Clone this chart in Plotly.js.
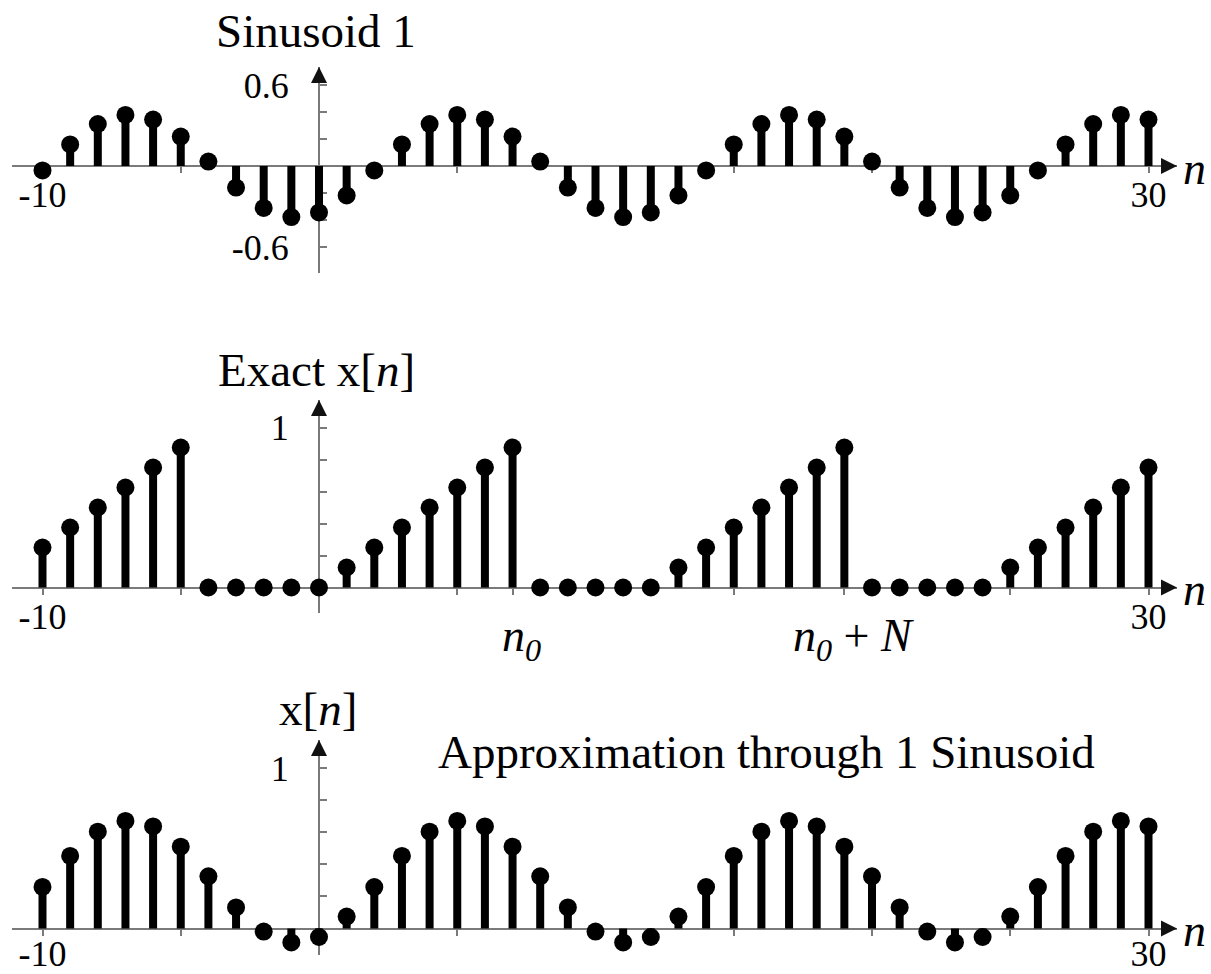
<!DOCTYPE html>
<html>
<head>
<meta charset="utf-8">
<script src="https://cdn.plot.ly/plotly-3.0.1.min.js"></script>
<style>
  html, body { margin: 0; padding: 0; background: #fff; }
  #chart { width: 1211px; height: 974px; }
</style>
</head>
<body>
<div id="chart"></div>
<script>
// Sample index n
const n = [-10, -9, -8, -7, -6, -5, -4, -3, -2, -1, 0, 1, 2, 3, 4, 5, 6, 7, 8, 9, 10,
           11, 12, 13, 14, 15, 16, 17, 18, 19, 20, 21, 22, 23, 24, 25, 26, 27, 28, 29, 30];

// First sinusoidal component of x[n]
const sinusoid1 = [-0.033, 0.160, 0.311, 0.378, 0.344, 0.218, 0.033, -0.160, -0.311, -0.378,
                   -0.344, -0.218, -0.033, 0.160, 0.311, 0.378, 0.344, 0.218, 0.033, -0.160,
                   -0.311, -0.378, -0.344, -0.218, -0.033, 0.160, 0.311, 0.378, 0.344, 0.218,
                   0.033, -0.160, -0.311, -0.378, -0.344, -0.218, -0.033, 0.160, 0.311, 0.378, 0.344];

// Exact periodic sequence x[n] (ramp, then zeros)
const exactX = [0.25, 0.375, 0.5, 0.625, 0.75, 0.875, 0, 0, 0, 0,
                0, 0.125, 0.25, 0.375, 0.5, 0.625, 0.75, 0.875, 0, 0,
                0, 0, 0, 0.125, 0.25, 0.375, 0.5, 0.625, 0.75, 0.875,
                0, 0, 0, 0, 0, 0.125, 0.25, 0.375, 0.5, 0.625, 0.75];

// Mean value plus the first sinusoid
const approx1 = [0.259, 0.452, 0.603, 0.670, 0.636, 0.510, 0.325, 0.131, -0.019, -0.087,
                 -0.053, 0.074, 0.258, 0.452, 0.603, 0.670, 0.636, 0.510, 0.325, 0.131,
                 -0.019, -0.087, -0.053, 0.074, 0.258, 0.452, 0.603, 0.670, 0.636, 0.510,
                 0.325, 0.131, -0.019, -0.087, -0.053, 0.074, 0.258, 0.452, 0.603, 0.670, 0.636];

// Tick values and labels
const nTickVals = [-10, -5, 5, 10, 15, 20, 25, 30];
const nTickText = ['-10', '', '', '', '', '', '', '30'];
const periodTickVals = [7, 19];
const periodTickText = ['<i>n</i><sub><i>0</i></sub>', '<i>n</i><sub><i>0</i></sub> + <i>N</i>'];
const sinTickVals = [-0.6, -0.4, -0.2, 0.2, 0.4, 0.6];
const sinTickText = ['-0.6', '', '', '', '', '0.6'];
const unitTickVals = [0.2, 0.4, 0.6, 0.8, 1];
const unitTickText = ['', '', '', '', '1'];

// ---- page geometry (pixels) ----
const W = 1211, H = 974;
const FONT = '"Liberation Serif", "Times New Roman", serif';
const AXIS_GRAY = '#7a7a7a';
const fx = p => p / W;
const fy = p => 1 - p / H;

// horizontal axis: pixel of n=-10, n=30 and of the line ends
const xPxAtMin = 42.5, xPxAtMax = 1148.5, xLinePxL = 12, xLinePxR = 1177;
const xPpu = (xPxAtMax - xPxAtMin) / 40;
const xRange = [-10 - (xPxAtMin - xLinePxL) / xPpu, 30 + (xLinePxR - xPxAtMax) / xPpu];
const xDomain = [fx(xLinePxL), fx(xLinePxR)];
const yAxisPos = fx(xPxAtMin + 10 * xPpu);

// vertical axes: baseline pixel, pixels per unit, top/bottom of axis line,
// and the offset of the n tick labels
const panels = [
  { base: 166, ppu: 135, top: 67, bottom: 273, labelOff: -9 },
  { base: 587.5, ppu: 160, top: 400, bottom: 613, labelOff: -9 },
  { base: 928.5, ppu: 160.5, top: 740, bottom: 955, labelOff: -13 }
];
panels.forEach(p => {
  p.range = [-(p.bottom - p.base) / p.ppu, (p.base - p.top) / p.ppu];
  p.domain = [fy(p.bottom), fy(p.top)];
});

function stems(xs, ys) {
  const sx = [], sy = [];
  xs.forEach((x, i) => { sx.push(x, x, null); sy.push(0, ys[i], null); });
  return { x: sx, y: sy };
}

const series = [sinusoid1, exactX, approx1];
const traces = [];
series.forEach((vals, k) => {
  const xa = k === 0 ? 'x' : 'x' + (k + 1);
  const ya = k === 0 ? 'y' : 'y' + (k + 1);
  const s = stems(n, vals);
  traces.push({
    type: 'scatter', mode: 'lines', x: s.x, y: s.y, xaxis: xa, yaxis: ya,
    line: { color: '#000', width: 8 }, hoverinfo: 'skip', cliponaxis: false, showlegend: false
  });
  traces.push({
    type: 'scatter', mode: 'markers', x: n, y: vals, xaxis: xa, yaxis: ya,
    marker: { color: '#000', size: 18 }, cliponaxis: false, showlegend: false
  });
});

function xAxis(p, vals, text) {
  return {
    domain: xDomain, range: xRange, anchor: 'free', position: fy(p.base),
    showline: true, linecolor: AXIS_GRAY, linewidth: 2, showgrid: false, zeroline: false,
    ticks: 'outside', ticklen: 6, tickwidth: 2, tickcolor: AXIS_GRAY,
    tickvals: vals, ticktext: text, ticklabelstandoff: p.labelOff,
    tickfont: { family: FONT, size: 36, color: '#000' }, layer: 'below traces', fixedrange: true
  };
}
function yAxis(p, vals, text) {
  return {
    domain: p.domain, range: p.range, anchor: 'free', position: yAxisPos, side: 'left',
    showline: true, linecolor: AXIS_GRAY, linewidth: 2, showgrid: false, zeroline: false,
    ticks: 'inside', ticklen: 7, tickwidth: 2, tickcolor: AXIS_GRAY,
    tickvals: vals, ticktext: text, ticklabelstandoff: 22,
    tickfont: { family: FONT, size: 36, color: '#000' }, layer: 'below traces', fixedrange: true
  };
}

const annotations = [];
// arrow heads at the ends of every axis
panels.forEach((p, k) => {
  const xr = k === 0 ? 'x' : 'x' + (k + 1);
  const yr = k === 0 ? 'y' : 'y' + (k + 1);
  annotations.push({ x: xRange[1], y: 0, xref: xr, yref: yr, ax: -15, ay: 0, text: '',
    showarrow: true, arrowhead: 2, arrowsize: 1.6, arrowwidth: 2, arrowcolor: '#111' });
  annotations.push({ x: 0, y: p.range[1], xref: xr, yref: yr, ax: 0, ay: 15, text: '',
    showarrow: true, arrowhead: 2, arrowsize: 1.6, arrowwidth: 2, arrowcolor: '#111' });
  // italic n label beside the horizontal arrow
  annotations.push({ x: fx(1194), y: fy(p.base + 2), xref: 'paper', yref: 'paper',
    text: '<i>n</i>', showarrow: false, xanchor: 'center', yanchor: 'middle',
    font: { family: FONT, size: 46, color: '#000' } });
});

// n0 and n0 + N markers below the middle axis
periodTickVals.forEach((v, i) => {
  annotations.push({ x: v, y: 0, xref: 'x2', yref: 'y2', text: periodTickText[i],
    showarrow: false, xanchor: 'center', yanchor: 'top', xshift: 9, yshift: -20,
    font: { family: FONT, size: 46, color: '#000' } });
});

// panel titles
const titles = [
  { text: 'Sinusoid 1', x: 316, y: 31 },
  { text: 'Exact x[<i>n</i>]', x: 316, y: 370 },
  { text: 'x[<i>n</i>]', x: 318, y: 709 },
  { text: 'Approximation through 1 Sinusoid', x: 766, y: 752 }
];
titles.forEach(t => {
  annotations.push({ x: fx(t.x), y: fy(t.y), xref: 'paper', yref: 'paper', text: t.text,
    showarrow: false, xanchor: 'center', yanchor: 'middle',
    font: { family: FONT, size: 47, color: '#000' } });
});

const layout = {
  width: W, height: H,
  margin: { l: 0, r: 0, t: 0, b: 0 },
  paper_bgcolor: '#fff', plot_bgcolor: 'rgba(0,0,0,0)',
  showlegend: false,
  xaxis: xAxis(panels[0], nTickVals, nTickText),
  xaxis2: xAxis(panels[1], nTickVals.concat(periodTickVals), nTickText.concat(['', ''])),
  xaxis3: xAxis(panels[2], nTickVals, nTickText),
  yaxis: yAxis(panels[0], sinTickVals, sinTickText),
  yaxis2: yAxis(panels[1], unitTickVals, unitTickText),
  yaxis3: yAxis(panels[2], unitTickVals, unitTickText),
  annotations: annotations
};

Plotly.newPlot('chart', traces, layout, { displayModeBar: false, staticPlot: true });
</script>
</body>
</html>
